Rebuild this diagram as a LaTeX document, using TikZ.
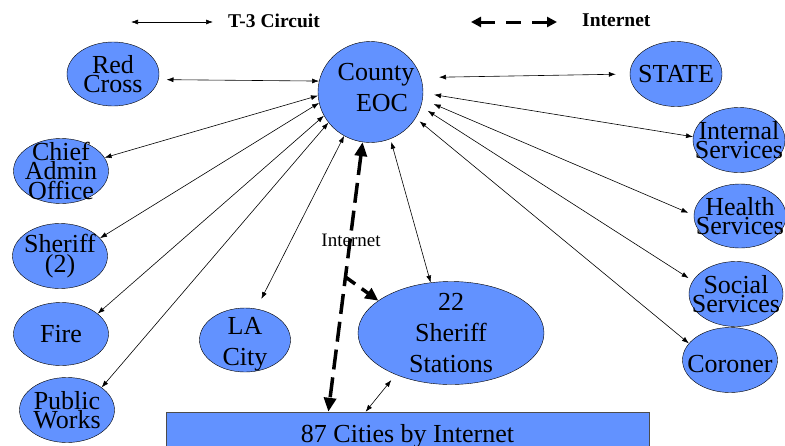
\documentclass[tikz,border=0pt]{standalone}
\usepackage{fontspec}
\setmainfont{Liberation Serif}
\usetikzlibrary{shapes.geometric,arrows.meta}
\definecolor{eocblue}{RGB}{98,146,255}

\begin{document}
\begin{tikzpicture}[x=1pt,y=-1pt,
    agency/.style={ellipse,draw=black,fill=eocblue,inner sep=-60pt,align=center,
        font=\fontsize{26}{16.5}\selectfont},
    loose/.style={font=\fontsize{26}{31}\selectfont},
    tthree/.style={line width=0.6pt,{Latex[length=7pt,width=5pt]}-{Latex[length=7pt,width=5pt]}},
    inet/.style={line width=3.5pt,dash pattern=on 20pt off 8pt,
        {Triangle[length=14pt,width=12pt]}-{Triangle[length=14pt,width=12pt]}},
    inetbranch/.style={line width=3.5pt,dash pattern=on 12pt off 8pt,-{Triangle[length=13pt,width=12pt]}},
    legdash/.style={line width=3pt,dash pattern=on 15pt off 11pt,
        {Triangle[length=10pt,width=10pt]}-{Triangle[length=10pt,width=10pt]}}]
\useasboundingbox (0,0) rectangle (785,445);

% legend
\coordinate (t3a) at (131,22);
\coordinate (t3b) at (213,22);
\draw[tthree] (t3a) -- (t3b);
\node[anchor=west,inner sep=0pt,font=\fontsize{19.5}{22}\selectfont\bfseries] (t3lbl) at (228,20.5) {T-3 Circuit};
\coordinate (neta) at (471,22);
\coordinate (netb) at (557,22);
\draw[legdash] (neta) -- (netb);
\node[anchor=west,inner sep=0pt,font=\fontsize{19.5}{22}\selectfont\bfseries] (netlbl) at (582,20) {Internet};

% agencies
\node[agency,loose,minimum width=105pt,minimum height=101pt,text depth=10pt] (eoc) at (370.5,92)
    {\hspace*{11pt}County\\\hspace*{23pt}EOC};
\node[agency,minimum width=92pt,minimum height=64pt] (redcross) at (113,74) {Red\\Cross};
\node[agency,minimum width=92pt,minimum height=65pt] (state) at (676,74) {STATE};
\node[agency,minimum width=95pt,minimum height=65pt] (chief) at (61,171) {Chief\\Admin\\Office};
\node[agency,minimum width=95pt,minimum height=65pt] (sheriff) at (60,256) {Sheriff\\(2)};
\node[agency,minimum width=95pt,minimum height=63pt] (fire) at (61,334) {Fire};
\node[agency,minimum width=95pt,minimum height=65pt] (works) at (67,410) {Public\\Works};
\node[agency,loose,minimum width=91pt,minimum height=64pt,text height=56.5pt] (lacity) at (245,340) {LA\\City};
\node[agency,loose,minimum width=186pt,minimum height=103pt] (stations) at (451,333) {22\\Sheriff\\Stations};
\node[agency,minimum width=92pt,minimum height=65pt] (internal) at (739,140) {Internal\\Services};
\node[agency,minimum width=92pt,minimum height=64pt] (health) at (740,216) {Health\\Services};
\node[agency,minimum width=94pt,minimum height=65pt] (social) at (736,294) {Social\\Services};
\node[agency,minimum width=95pt,minimum height=65pt,text height=26pt] (coroner) at (730,360) {Coroner};
\node[draw=black!70,fill=eocblue,minimum width=483pt,minimum height=48pt,inner sep=0pt,
    font=\fontsize{26}{31}\selectfont] (cities) at (407.5,436) {87 Cities by Internet};

% T-3 circuits
\draw[tthree,shorten <=8pt] (redcross.-7) -- (eoc.168);
\foreach \n/\a/\b/\s/\t in {state/16/180/18pt/14pt, chief/184/17/0pt/0pt, sheriff/192/24/0pt/0pt,
    fire/207/29/0pt/0pt, works/216/33/0pt/0pt, lacity/239/70/0pt/11pt,
    internal/-1/176/11pt/0pt, health/-8/179/12pt/6pt, social/-16/163/8pt/5pt,
    coroner/-30/158/5pt/0pt, stations/-67/112/3pt/0pt}
{
    \draw[tthree,shorten <=\s,shorten >=\t] (eoc.\a) -- (\n.\b);
}
\draw[tthree,shorten <=7pt] (stations.217) -- (cities.150);

% internet
\draw[inet] (eoc.261) -- coordinate[pos=0.5] (split) (cities.163);
\draw[inetbranch] (split) -- (stations.156);
\node[inner sep=0pt,font=\fontsize{19}{22}\selectfont] (inetlbl) at (351,240.5) {Internet};
\end{tikzpicture}
\end{document}
